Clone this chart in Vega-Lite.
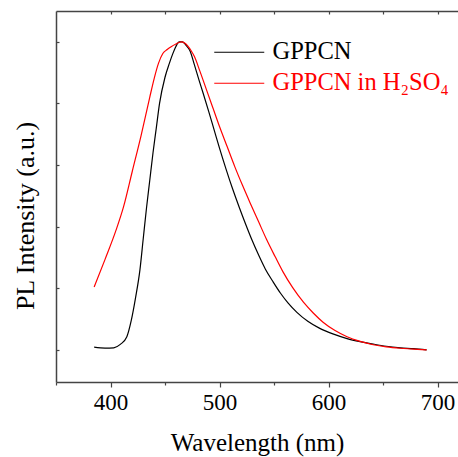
{
  "$schema": "https://vega.github.io/schema/vega-lite/v6.json",
  "width": 402,
  "height": 371,
  "autosize": "none",
  "padding": {"left": 56, "top": 11, "right": 0, "bottom": 75},
  "background": "white",
  "config": {
    "view": {"stroke": null},
    "font": "Liberation Serif",
    "axis": {
      "domainColor": "#444444",
      "domainWidth": 1.5,
      "tickColor": "#444444",
      "tickWidth": 1.2,
      "grid": false,
      "labelFont": "Liberation Serif",
      "titleFont": "Liberation Serif",
      "labelColor": "#000000",
      "titleColor": "#000000",
      "titleFontWeight": "normal"
    },
    "legend": {
      "labelFont": "Liberation Serif"
    }
  },
  "data": {
    "values": [
      {"wl": 385, "v": 0.009, "s": "GPPCN"},
      {"wl": 395, "v": 0.006, "s": "GPPCN"},
      {"wl": 403, "v": 0.007, "s": "GPPCN"},
      {"wl": 409, "v": 0.018, "s": "GPPCN"},
      {"wl": 415, "v": 0.043, "s": "GPPCN"},
      {"wl": 419, "v": 0.095, "s": "GPPCN"},
      {"wl": 423, "v": 0.17, "s": "GPPCN"},
      {"wl": 427, "v": 0.26, "s": "GPPCN"},
      {"wl": 430, "v": 0.36, "s": "GPPCN"},
      {"wl": 433, "v": 0.46, "s": "GPPCN"},
      {"wl": 436, "v": 0.55, "s": "GPPCN"},
      {"wl": 439, "v": 0.64, "s": "GPPCN"},
      {"wl": 442, "v": 0.72, "s": "GPPCN"},
      {"wl": 445, "v": 0.8, "s": "GPPCN"},
      {"wl": 450, "v": 0.885, "s": "GPPCN"},
      {"wl": 454, "v": 0.93, "s": "GPPCN"},
      {"wl": 457, "v": 0.96, "s": "GPPCN"},
      {"wl": 460, "v": 0.985, "s": "GPPCN"},
      {"wl": 463, "v": 1.0, "s": "GPPCN"},
      {"wl": 466, "v": 1.0, "s": "GPPCN"},
      {"wl": 469, "v": 0.99, "s": "GPPCN"},
      {"wl": 473, "v": 0.97, "s": "GPPCN"},
      {"wl": 477, "v": 0.925, "s": "GPPCN"},
      {"wl": 481, "v": 0.878, "s": "GPPCN"},
      {"wl": 485, "v": 0.833, "s": "GPPCN"},
      {"wl": 490, "v": 0.775, "s": "GPPCN"},
      {"wl": 495, "v": 0.715, "s": "GPPCN"},
      {"wl": 500, "v": 0.655, "s": "GPPCN"},
      {"wl": 506, "v": 0.587, "s": "GPPCN"},
      {"wl": 512, "v": 0.523, "s": "GPPCN"},
      {"wl": 518, "v": 0.464, "s": "GPPCN"},
      {"wl": 524, "v": 0.408, "s": "GPPCN"},
      {"wl": 530, "v": 0.355, "s": "GPPCN"},
      {"wl": 536, "v": 0.307, "s": "GPPCN"},
      {"wl": 542, "v": 0.263, "s": "GPPCN"},
      {"wl": 549, "v": 0.222, "s": "GPPCN"},
      {"wl": 556, "v": 0.184, "s": "GPPCN"},
      {"wl": 563, "v": 0.152, "s": "GPPCN"},
      {"wl": 571, "v": 0.122, "s": "GPPCN"},
      {"wl": 581, "v": 0.093, "s": "GPPCN"},
      {"wl": 592, "v": 0.07, "s": "GPPCN"},
      {"wl": 604, "v": 0.052, "s": "GPPCN"},
      {"wl": 617, "v": 0.037, "s": "GPPCN"},
      {"wl": 629, "v": 0.027, "s": "GPPCN"},
      {"wl": 641, "v": 0.019, "s": "GPPCN"},
      {"wl": 653, "v": 0.012, "s": "GPPCN"},
      {"wl": 666, "v": 0.007, "s": "GPPCN"},
      {"wl": 678, "v": 0.004, "s": "GPPCN"},
      {"wl": 690, "v": 0.0, "s": "GPPCN"},
      {"wl": 385, "v": 0.204, "s": "GPPCN in H₂SO₄"},
      {"wl": 395, "v": 0.294, "s": "GPPCN in H₂SO₄"},
      {"wl": 405, "v": 0.388, "s": "GPPCN in H₂SO₄"},
      {"wl": 412, "v": 0.465, "s": "GPPCN in H₂SO₄"},
      {"wl": 420, "v": 0.58, "s": "GPPCN in H₂SO₄"},
      {"wl": 428, "v": 0.695, "s": "GPPCN in H₂SO₄"},
      {"wl": 436, "v": 0.82, "s": "GPPCN in H₂SO₄"},
      {"wl": 440, "v": 0.88, "s": "GPPCN in H₂SO₄"},
      {"wl": 444, "v": 0.93, "s": "GPPCN in H₂SO₄"},
      {"wl": 448, "v": 0.962, "s": "GPPCN in H₂SO₄"},
      {"wl": 452, "v": 0.975, "s": "GPPCN in H₂SO₄"},
      {"wl": 456, "v": 0.985, "s": "GPPCN in H₂SO₄"},
      {"wl": 460, "v": 0.993, "s": "GPPCN in H₂SO₄"},
      {"wl": 465, "v": 1.0, "s": "GPPCN in H₂SO₄"},
      {"wl": 468, "v": 0.996, "s": "GPPCN in H₂SO₄"},
      {"wl": 471, "v": 0.986, "s": "GPPCN in H₂SO₄"},
      {"wl": 474, "v": 0.971, "s": "GPPCN in H₂SO₄"},
      {"wl": 477, "v": 0.952, "s": "GPPCN in H₂SO₄"},
      {"wl": 482, "v": 0.905, "s": "GPPCN in H₂SO₄"},
      {"wl": 488, "v": 0.845, "s": "GPPCN in H₂SO₄"},
      {"wl": 494, "v": 0.785, "s": "GPPCN in H₂SO₄"},
      {"wl": 500, "v": 0.725, "s": "GPPCN in H₂SO₄"},
      {"wl": 507, "v": 0.66, "s": "GPPCN in H₂SO₄"},
      {"wl": 514, "v": 0.595, "s": "GPPCN in H₂SO₄"},
      {"wl": 521, "v": 0.535, "s": "GPPCN in H₂SO₄"},
      {"wl": 528, "v": 0.478, "s": "GPPCN in H₂SO₄"},
      {"wl": 536, "v": 0.415, "s": "GPPCN in H₂SO₄"},
      {"wl": 543, "v": 0.36, "s": "GPPCN in H₂SO₄"},
      {"wl": 551, "v": 0.303, "s": "GPPCN in H₂SO₄"},
      {"wl": 558, "v": 0.255, "s": "GPPCN in H₂SO₄"},
      {"wl": 567, "v": 0.203, "s": "GPPCN in H₂SO₄"},
      {"wl": 577, "v": 0.155, "s": "GPPCN in H₂SO₄"},
      {"wl": 586, "v": 0.12, "s": "GPPCN in H₂SO₄"},
      {"wl": 595, "v": 0.09, "s": "GPPCN in H₂SO₄"},
      {"wl": 606, "v": 0.063, "s": "GPPCN in H₂SO₄"},
      {"wl": 617, "v": 0.043, "s": "GPPCN in H₂SO₄"},
      {"wl": 629, "v": 0.028, "s": "GPPCN in H₂SO₄"},
      {"wl": 641, "v": 0.017, "s": "GPPCN in H₂SO₄"},
      {"wl": 653, "v": 0.01, "s": "GPPCN in H₂SO₄"},
      {"wl": 666, "v": 0.0055, "s": "GPPCN in H₂SO₄"},
      {"wl": 678, "v": 0.003, "s": "GPPCN in H₂SO₄"},
      {"wl": 690, "v": 0.0, "s": "GPPCN in H₂SO₄"}
    ]
  },
  "resolve": {"axis": {"x": "independent"}},
  "layer": [
    {
      "mark": {"type": "line", "strokeWidth": 1.2, "interpolate": "monotone"},
      "encoding": {
        "x": {
          "field": "wl", "type": "quantitative",
          "scale": {"domain": [350, 718.8], "nice": false, "zero": false},
          "axis": {
            "orient": "bottom",
            "title": "Wavelength (nm)",
            "titleFontSize": 25,
            "titleY": 68,
            "titleBaseline": "alphabetic",
            "values": [350, 400, 450, 500, 550, 600, 650, 700],
            "labelExpr": "datum.value % 100 == 0 ? datum.label : ''",
            "labelFontSize": 23,
            "labelBaseline": "alphabetic",
            "labelPadding": 22,
            "tickSize": {"condition": {"test": "datum.value % 100 == 0", "value": 5}, "value": 3}
          }
        },
        "y": {
          "field": "v", "type": "quantitative",
          "scale": {"domain": [-0.104, 1.1], "nice": false, "zero": false},
          "axis": {
            "title": "PL Intensity (a.u.)",
            "titleFontSize": 26,
            "titleAngle": -90,
            "titleAlign": "center",
            "titleBaseline": "alphabetic",
            "titleX": -23,
            "titleY": 204.5,
            "values": [0, 0.2, 0.4, 0.6, 0.8, 1.0],
            "labels": false,
            "tickSize": -3
          }
        },
        "color": {
          "field": "s", "type": "nominal",
          "scale": {"domain": ["GPPCN", "GPPCN in H₂SO₄"], "range": ["#000000", "#ff0000"]},
          "legend": {
            "title": null,
            "orient": "none",
            "legendX": 171,
            "legendY": 29,
            "padding": 0,
            "symbolType": "M-5,0L5,0",
            "symbolSize": 100,
            "symbolStrokeWidth": 1.2,
            "labelFontSize": 24.5,
            "labelOffset": 21,
            "rowPadding": 6,
            "labelLimit": 400,
            "encode": {
              "labels": {
                "update": {
                  "fill": {"signal": "datum.value == 'GPPCN' ? '#000000' : '#ff0000'"}
                }
              }
            }
          }
        }
      }
    },
    {
      "mark": {"type": "line", "opacity": 0},
      "encoding": {
        "x": {
          "field": "wl", "type": "quantitative",
          "scale": {"domain": [350, 718.8], "nice": false, "zero": false},
          "axis": {
            "orient": "top",
            "title": null,
            "labels": false,
            "values": [400, 450, 500, 550, 600, 650, 700],
            "tickSize": -3
          }
        },
        "y": {"field": "v", "type": "quantitative"},
        "detail": {"field": "s"}
      }
    }
  ]
}
